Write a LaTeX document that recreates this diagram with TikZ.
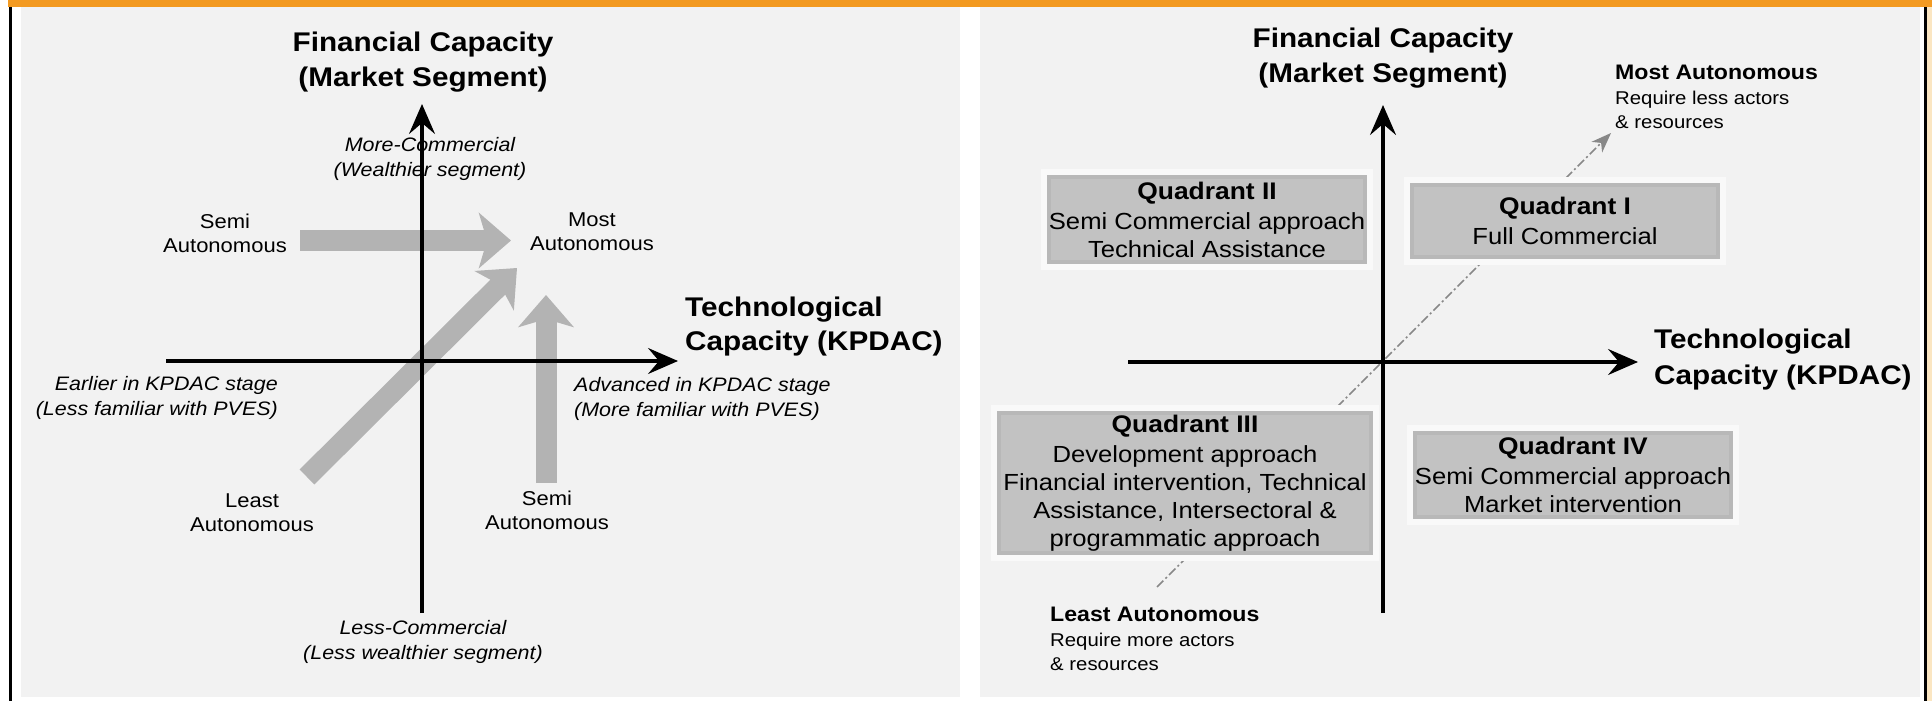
\documentclass[tikz,border=0pt]{standalone}
\usepackage{fontspec}
\setmainfont{Liberation Sans}[FakeStretch=1.1]
\usetikzlibrary{arrows.meta,backgrounds}

\definecolor{barorange}{RGB}{243,154,33}
\definecolor{cream}{RGB}{251,230,194}
\definecolor{panelgray}{RGB}{242,242,242}
\definecolor{fatgray}{RGB}{179,179,179}
\definecolor{boxfill}{RGB}{194,194,194}
\definecolor{boxedge}{RGB}{184,184,184}
\definecolor{glowwhite}{RGB}{249,249,249}
\definecolor{trendgray}{RGB}{136,136,136}

\newcommand{\fsz}[2]{\fontsize{#1}{#2}\selectfont}
\newcommand{\firststrut}{\rule{0pt}{.8em}}
\newcommand{\qtitlefont}{\bfseries\fsz{24}{28}}

\pgfdeclarelayer{glowlayer}
\pgfsetlayers{background,glowlayer,main}

\begin{document}
\begin{tikzpicture}[
  x=1pt, y=-1pt,
  axis/.style={line width=3.2pt, -{Stealth[length=30pt,width=26pt,inset=11pt]}},
  fatarrow/.style={draw=fatgray, line width=21pt, -{Stealth[length=32pt,width=55pt,inset=8pt]}},
  trendline/.style={draw=trendgray, line width=1.7pt,
    dash pattern=on 9pt off 3pt on 2pt off 3pt,
    -{Stealth[length=20pt,width=15pt,inset=6pt]}},
  axtitle/.style={font=\bfseries\fsz{27}{35}, inner sep=0pt},
  lab/.style={font=\fsz{20}{24}, inner sep=0pt, align=center, anchor=north},
  note/.style={font=\itshape\fsz{19.5}{25}, inner sep=0pt},
  quad/.style={fill=boxfill, draw=boxedge, line width=4pt, inner sep=0pt,
    align=center, font=\fsz{23.3}{28}},
  lead/.style={font=\bfseries\fsz{21}{25}, inner sep=0pt, anchor=north west},
  small/.style={font=\fsz{18.5}{23.5}, inner sep=0pt, align=left, anchor=north west}
]
\useasboundingbox (0,0) rectangle (1932,701);

% frame and the two panels
\begin{pgfonlayer}{background}
  \fill[white] (0,0) rectangle (1932,701);
  \fill[barorange] (8,0) rectangle (1932,7);
  \fill[black] (9,7) rectangle (11.5,701);
  \fill[black] (1924,7) rectangle (1927,701);
  \fill[cream] (1927,7) rectangle (1932,701);
  \fill[panelgray] (21,7) rectangle (960,697);
  \fill[panelgray] (980,7) rectangle (1920,697);
  % autonomy trend across the quadrants
  \coordinate (trendA) at (1157,587);
  \coordinate (trendB) at (1611,133);
  \draw[trendline] (trendA) -- (trendB);
\end{pgfonlayer}

%%%%%%%%%% left panel: autonomy paths %%%%%%%%%%
\node[axtitle, align=center, anchor=north] (lfin) at (423,29.5)
  {\firststrut Financial Capacity\\(Market Segment)};
\node[note, align=center, anchor=north] (lmore) at (430,136)
  {\firststrut More-Commercial\\(Wealthier segment)};
\node[lab] (lsemiA) at (225,212) {\firststrut Semi\\Autonomous};
\node[lab] (lmost) at (592,210) {\firststrut Most\\Autonomous};
\node[lab] (lleast) at (252,491) {\firststrut Least\\Autonomous};
\node[lab] (lsemiB) at (547,489) {\firststrut Semi\\Autonomous};
\node[note, align=right, anchor=north east] (learly) at (278,375)
  {\firststrut Earlier in KPDAC stage\\(Less familiar with PVES)};
\node[note, align=left, anchor=north west] (ladv) at (574,376)
  {\firststrut Advanced in KPDAC stage\\(More familiar with PVES)};
\node[note, align=center, anchor=north] (lless) at (423,619)
  {\firststrut Less-Commercial\\(Less wealthier segment)};
\node[axtitle, font=\bfseries\fsz{27}{34}, align=left, anchor=north west] (ltech) at (685,294.5)
  {\firststrut Technological\\Capacity (KPDAC)};

% broad grey paths towards the most autonomous position
\coordinate (semiAend) at (300,240.5);
\coordinate (semiAtip) at (511,240.5);
\coordinate (leastend) at (307,477);
\coordinate (leasttip) at (517,268);
\coordinate (semiBend) at (546,483);
\coordinate (semiBtip) at (546,295);
\draw[fatarrow] (semiAend) -- (semiAtip);
\draw[fatarrow] (leastend) -- (leasttip);
\draw[fatarrow] (semiBend) -- (semiBtip);

% axes
\coordinate (lx0) at (166,361);
\coordinate (lx1) at (678,361);
\coordinate (ly0) at (422,613);
\coordinate (ly1) at (422,104);
\draw[axis] (lx0) -- (lx1);
\draw[axis] (ly0) -- (ly1);

%%%%%%%%%% right panel: quadrants %%%%%%%%%%
\node[axtitle, align=center, anchor=north] (rfin) at (1383,25.5)
  {\firststrut Financial Capacity\\(Market Segment)};
\node[axtitle, font=\bfseries\fsz{27}{36}, align=left, anchor=north west] (rtech) at (1654,326.5)
  {\firststrut Technological\\Capacity (KPDAC)};

\node[lead] (rmost) at (1615,62.5) {\firststrut Most Autonomous};
\node[small] (rmostnote) at (1615,89.75) {\firststrut Require less actors\\\& resources};
\node[lead] (rleast) at (1050,604.5) {\firststrut Least Autonomous};
\node[small] (rleastnote) at (1050,631.75) {\firststrut Require more actors\\\& resources};

\node[quad, minimum width=316pt, minimum height=85pt] (q2) at (1207,219.5)
  {{\qtitlefont Quadrant II}\\[2pt]Semi Commercial approach\\Technical Assistance};
\node[quad, minimum width=306pt, minimum height=72pt] (q1) at (1565,221)
  {{\qtitlefont Quadrant I}\\[2pt]Full Commercial};
\node[quad, minimum width=372pt, minimum height=140pt] (q3) at (1185,483)
  {{\qtitlefont Quadrant III}\\[2pt]Development approach\\Financial intervention, Technical\\Assistance, Intersectoral \&\\programmatic approach};
\node[quad, minimum width=314pt, minimum height=84pt] (q4) at (1573,475)
  {{\qtitlefont Quadrant IV}\\[2pt]Semi Commercial approach\\Market intervention};

% soft light frames round the quadrant boxes
\begin{pgfonlayer}{glowlayer}
  \foreach \q in {q1,q2,q3,q4}
    \fill[glowwhite] ([xshift=-6pt,yshift=6pt]\q.north west)
      rectangle ([xshift=6pt,yshift=-6pt]\q.south east);
\end{pgfonlayer}

% axes
\coordinate (rx0) at (1128,362);
\coordinate (rx1) at (1638,362);
\coordinate (ry0) at (1383,613);
\coordinate (ry1) at (1383,105);
\draw[axis] (rx0) -- (rx1);
\draw[axis] (ry0) -- (ry1);
\end{tikzpicture}
\end{document}
